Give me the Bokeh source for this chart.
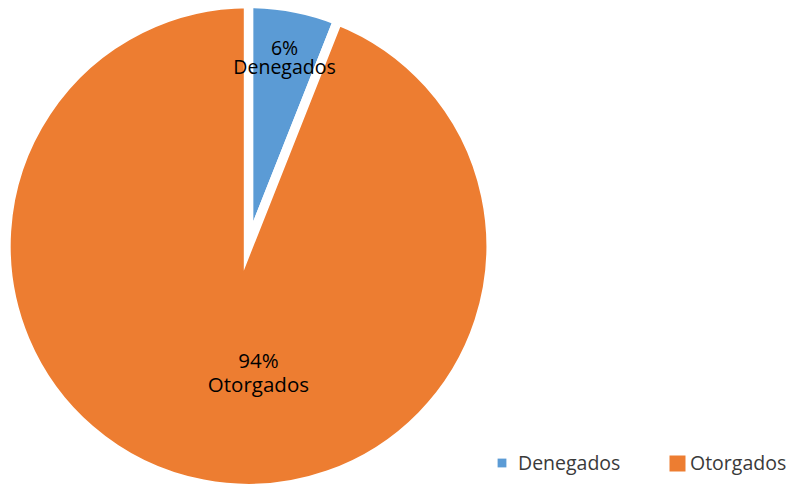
import math
from bokeh.plotting import figure
from bokeh.models import Range1d, Legend, LegendItem, ColumnDataSource
from bokeh.embed import file_html
from bokeh.resources import INLINE
from bokeh.core.properties import value

# ---- data ----
categories = ["Denegados", "Otorgados"]
values = [6, 94]
colors = ["#5B9BD5", "#ED7D31"]

# ---- layout ----
W, H = 796, 487
FONT = "Open Sans"
cx, cy = 248.0, 241.5      # pie centre (plot px, y from bottom)
R = 242.5                  # outer radius incl. white stroke
GAP = 9.4                  # white separator width
# label placement per slice: (radius fraction, angle clockwise from top deg,
#                             line spacing px, font size px)
label_place = [(0.793, 10.8, 19, 19.5), (0.522, 175.5, 24, 20.5)]

p = figure(width=W, height=H, x_range=Range1d(0, W), y_range=Range1d(0, H),
           output_backend="svg", toolbar_location=None, min_border=0)
p.axis.visible = False
p.grid.visible = False
p.outline_line_color = None

total = float(sum(values))
starts, ends, pct = [], [], []
acc = 0.0
for v in values:
    a0 = acc / total * 2 * math.pi
    acc += v
    a1 = acc / total * 2 * math.pi
    starts.append(math.pi / 2 - a0)
    ends.append(math.pi / 2 - a1)
    pct.append(f"{round(v / total * 100)}%")

src = ColumnDataSource(dict(cat=categories, val=values, color=colors,
                            start=starts, end=ends))
p.wedge(x=cx, y=cy, radius=R, start_angle="start", end_angle="end",
        direction="clock", fill_color="color", line_color="white",
        line_width=GAP, line_join="miter", source=src)

for i, (rf, ang, sp, fs) in enumerate(label_place):
    t = math.radians(ang)
    ax = cx + rf * R * math.sin(t)
    ay = cy + rf * R * math.cos(t)
    p.text(x=[ax, ax], y=[ay + sp / 2, ay - sp / 2], text=[pct[i], categories[i]],
           text_align="center", text_baseline="middle", text_font=value(FONT),
           text_font_size=f"{fs}px", text_color="black")

# legend (one per item: the reference uses different marker sizes)
leg_cfg = [  # (location, glyph size, standoff)
    ((496, 11), 11, 11),
    ((667, 11), 20, 3),
]
for c, col, (loc, gs, so) in zip(categories, colors, leg_cfg):
    r = p.quad(left=[float("nan")], right=[float("nan")], top=[float("nan")],
               bottom=[float("nan")], fill_color=col, line_color=None)
    lg = Legend(items=[LegendItem(label=c, renderers=[r])], location=loc,
                orientation="horizontal", padding=0, margin=0,
                label_standoff=so, glyph_width=gs, glyph_height=gs,
                label_height=26,
                label_text_font=FONT, label_text_font_size="19.5px",
                label_text_color="#3a3a3a", border_line_color=None,
                background_fill_alpha=0)
    p.add_layout(lg, "center")

open("out.html", "w").write(file_html(p, INLINE))
